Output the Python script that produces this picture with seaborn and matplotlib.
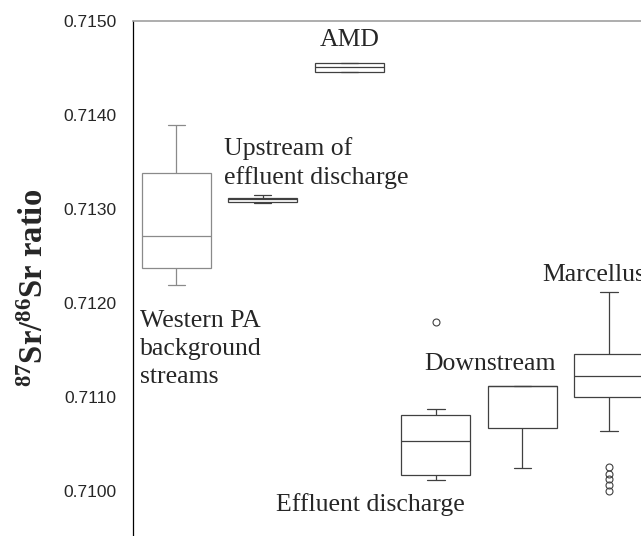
import pandas as pd
import numpy as np
import matplotlib
matplotlib.use("Agg")
import matplotlib.pyplot as plt
import seaborn as sns

# Site groups, left to right
sites = ["Western PA", "Upstream", "AMD", "Effluent", "Downstream", "Marcellus"]

# 87Sr/86Sr ratios (quartiles, whiskers, outliers)
western_pa = [0.71219, 0.71237, 0.71271, 0.71338, 0.71389]
upstream = [0.71306, 0.71307, 0.71310, 0.71312, 0.71315]
amd = [0.71446, 0.71446, 0.71451, 0.71455, 0.71455]
effluent = [0.71011, 0.71017, 0.71017, 0.71035, 0.71053, 0.71070, 0.71081, 0.71087, 0.71180]
downstream = [0.71024, 0.71067, 0.71111, 0.71111, 0.71111]
marcellus = [0.71000, 0.71006, 0.71012, 0.71018, 0.71025, 0.71064, 0.71100,
             0.71104, 0.71109, 0.71113, 0.71116, 0.71119, 0.71122,
             0.71126, 0.71130, 0.71134, 0.71138, 0.71142, 0.71146,
             0.71155, 0.71165, 0.71175, 0.71188, 0.71200, 0.71211]

yticks = [0.7100, 0.7110, 0.7120, 0.7130, 0.7140, 0.7150]

groups = [western_pa, upstream, amd, effluent, downstream, marcellus]
df = pd.DataFrame({
    "site": np.repeat(sites, [len(g) for g in groups]),
    "ratio": np.concatenate(groups),
})

sns.set_style("white")
plt.rcParams['font.family'] = ['Liberation Serif', 'DejaVu Serif']
plt.rcParams['mathtext.fontset'] = 'custom'
plt.rcParams['mathtext.rm'] = 'Liberation Serif:bold'
plt.rcParams['mathtext.it'] = 'Liberation Serif:bold'
plt.rcParams['mathtext.bf'] = 'Liberation Serif:bold'

fig = plt.figure(figsize=(6.41, 5.36), dpi=100)
ax = fig.add_axes([0.2075, -0.0205, 0.81, 0.9813])

flier = dict(marker='o', markersize=5, markerfacecolor='none', markeredgewidth=0.8)

# background streams are drawn in a lighter grey
sns.boxplot(data=df[df.site == "Western PA"], x="site", y="ratio", order=sites,
            color="white", linecolor="#8a8a8a", linewidth=0.9, width=0.8,
            flierprops=flier, capwidths=0.2, ax=ax)
sns.boxplot(data=df[df.site != "Western PA"], x="site", y="ratio", order=sites,
            color="white", linecolor="#404040", linewidth=0.9, width=0.8,
            flierprops=flier, capwidths=0.2, ax=ax)

ax.set_xlim(-0.5, 5.5)
ax.set_ylim(0.7094, 0.7150)
ax.set_xticks([])
ax.set_xlabel('')
ax.set_yticks(yticks)
ax.set_yticklabels(['%.4f' % t for t in yticks], family='Liberation Sans', fontsize=12.5)
ax.tick_params(axis='y', direction='in', length=8, width=0.8, color='#555555', pad=12)

for s in ['right', 'bottom']:
    ax.spines[s].set_visible(False)
ax.spines['left'].set_color('black')
ax.spines['left'].set_linewidth(0.9)
ax.spines['top'].set_color('#a0a0a0')
ax.spines['top'].set_linewidth(1.2)

ax.set_ylabel(r'$^{87}$Sr/$^{86}$Sr ratio', fontsize=23.5, fontweight='bold')
ax.yaxis.set_label_coords(-0.16, 0.492)

fs = 18.5
ax.text(2, 0.71480, 'AMD', ha='center', va='center', fontsize=fs)
ax.text(0.555, 0.71349, 'Upstream of\neffluent discharge', ha='left', va='center',
        fontsize=fs, linespacing=1.35)
ax.text(-0.416, 0.71192, 'Western PA\nbackground\nstreams', ha='left', va='top',
        fontsize=fs, linespacing=1.35)
ax.text(2.24, 0.70985, 'Effluent discharge', ha='center', va='center', fontsize=fs)
ax.text(3.62, 0.71135, 'Downstream', ha='center', va='center', fontsize=fs)
ax.text(4.23, 0.71230, 'Marcellus', ha='left', va='center', fontsize=fs)

plt.savefig('out.png', dpi=100)
